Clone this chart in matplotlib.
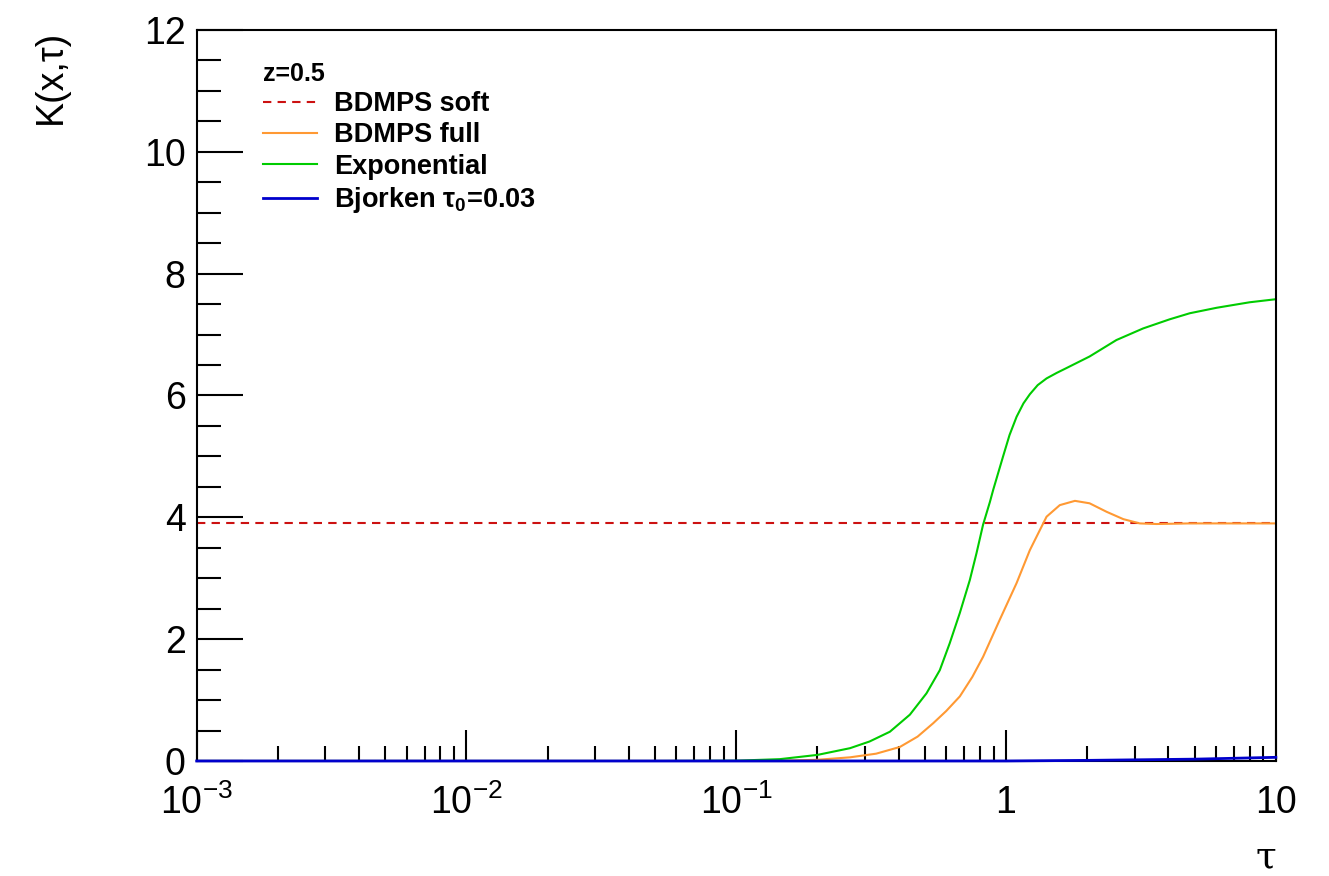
import numpy as np
import matplotlib
matplotlib.use("Agg")
import matplotlib.pyplot as plt
from matplotlib.ticker import FixedLocator, FixedFormatter, MultipleLocator

plt.rcParams["font.family"] = ["Liberation Sans", "DejaVu Sans"]
plt.rcParams["mathtext.fontset"] = "custom"
plt.rcParams["mathtext.rm"] = "Liberation Sans"

# Werte
tau_exp = [1e-3, 0.05, 0.1, 0.145, 0.2, 0.264, 0.312, 0.371, 0.44, 0.507, 0.568,
           0.618, 0.674, 0.734, 0.777, 0.822, 0.871, 0.896, 0.975, 1.03, 1.094,
           1.16, 1.225, 1.31, 1.413, 1.54, 1.675, 2.04, 2.565, 3.22, 4.04, 4.8,
           6.04, 8.0, 10]
k_exp = [0.0, 0.0, 0.005, 0.03, 0.1, 0.21, 0.32, 0.48, 0.76, 1.11, 1.49,
         1.93, 2.43, 2.97, 3.41, 3.88, 4.25, 4.45, 5.0, 5.35, 5.65,
         5.87, 6.02, 6.17, 6.28, 6.37, 6.45, 6.64, 6.91, 7.10, 7.25, 7.35,
         7.44, 7.53, 7.58]

tau_full = [1e-3, 0.1, 0.15, 0.2, 0.264, 0.33, 0.404, 0.47, 0.537, 0.6, 0.674,
            0.75, 0.822, 0.948, 1.094, 1.225, 1.28, 1.413, 1.582, 1.8, 2.04,
            2.36, 2.72, 3.13, 3.61, 4.8, 10]
k_full = [0.0, 0.0, 0.005, 0.02, 0.06, 0.12, 0.23, 0.40, 0.62, 0.82, 1.06,
          1.38, 1.71, 2.32, 2.92, 3.46, 3.63, 4.01, 4.20, 4.27, 4.23,
          4.09, 3.97, 3.90, 3.89, 3.90, 3.9]

tau_soft = [1e-3, 10]
k_soft = [3.9, 3.9]

tau_bj = [1e-3, 1.0, 2.0, 5.0, 10]
k_bj = [0.0, 0.0, 0.01, 0.03, 0.06]

fig = plt.figure(figsize=(13.29, 8.76), dpi=100)
ax = fig.add_axes([0.148, 0.1313, 0.812, 0.8345])

ax.plot(tau_soft, k_soft, color="#cc1111", lw=1.5, dashes=(4, 3), label="BDMPS soft")
ax.plot(tau_full, k_full, color="#ff9933", lw=1.5, label="BDMPS full")
ax.plot(tau_exp, k_exp, color="#00cc00", lw=1.5, label="Exponential")
ax.plot(tau_bj, k_bj, color="#0000cc", lw=2, label="Bjorken τ$_{\\mathregular{0}}$=0.03",
        clip_on=False, zorder=5)

ax.set_xscale("log")
ax.set_xlim(1e-3, 10)
ax.set_ylim(0, 12)

ax.xaxis.set_major_locator(FixedLocator([1e-3, 1e-2, 1e-1, 1, 10]))
ax.xaxis.set_major_formatter(FixedFormatter([r"$\mathregular{10^{-3}}$", r"$\mathregular{10^{-2}}$",
                                             r"$\mathregular{10^{-1}}$", "1", "10"]))
minors = [m * 10.0 ** e for e in range(-3, 1) for m in range(2, 10)]
ax.xaxis.set_minor_locator(FixedLocator(minors))
ax.xaxis.set_minor_formatter(FixedFormatter([""] * len(minors)))
ax.yaxis.set_major_locator(MultipleLocator(2))
ax.yaxis.set_minor_locator(MultipleLocator(0.5))

ax.tick_params(which="both", direction="in", top=False, right=False, width=1.5,
               labelsize=27, colors="black")
ax.tick_params(axis="x", which="major", length=22, pad=17)
ax.tick_params(axis="x", which="minor", length=11)
ax.tick_params(axis="y", which="major", length=33, pad=8)
ax.tick_params(axis="y", which="minor", length=17)
for s in ax.spines.values():
    s.set_linewidth(1.5)

ax.set_ylabel("K(x,τ)", fontsize=27, loc="top", labelpad=54)
ax.set_xlabel("τ", fontsize=27, loc="right", family=["DejaVu Serif"], labelpad=12)

leg = ax.legend(loc="upper left", bbox_to_anchor=(0.051, 0.9715), frameon=False,
                title="z=0.5", alignment="left", handlelength=2.0, handletextpad=0.63,
                labelspacing=0.2, borderaxespad=0,
                prop={"weight": "bold", "size": 19.5},
                title_fontproperties={"weight": "bold", "size": 18})

fig.savefig("out.png", dpi=100)
